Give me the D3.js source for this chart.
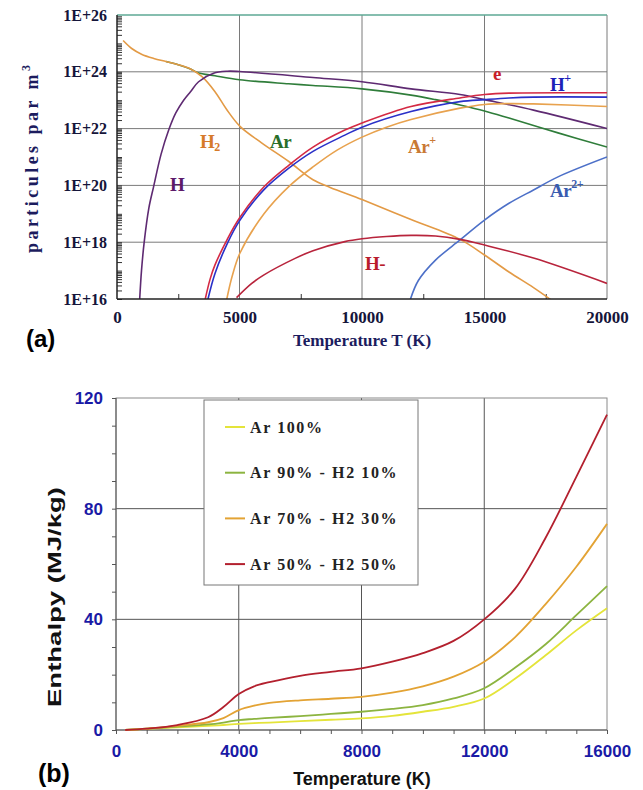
<!DOCTYPE html>
<html>
<head>
<meta charset="utf-8">
<script src="https://cdn.jsdelivr.net/npm/d3@7"></script>
<style>
body { margin: 0; background: #fff; }
svg { display: block; }
.serif { font-family: "Liberation Serif", "Times New Roman", serif; font-weight: bold; }
.sans { font-family: "Liberation Sans", Arial, sans-serif; font-weight: bold; }
</style>
</head>
<body>
<svg id="chart" width="643" height="790"></svg>
<script>
/* (a) particle densities, stored as log10 of particles per m3 */
var tempTicksA = [0, 5000, 10000, 15000, 20000];
var tempMinorA = [2500, 7500, 12500, 17500];
var densityTicks = [16, 18, 20, 22, 24, 26];

var seriesH2 = [[250, 25.1], [600, 24.82], [1000, 24.62], [1500, 24.47], [2000, 24.36], [2500, 24.25], [3000, 24.1],
	[3470, 23.83], [4000, 23.3], [4470, 22.68], [5020, 22.08], [5900, 21.5], [7000, 20.85], [8000, 20.2],
	[8700, 19.93], [10000, 19.5], [12000, 18.8], [14000, 18.1], [15000, 17.55], [16000, 16.95], [17000, 16.4], [17700, 15.98]];
var seriesAr = [[2000, 24.36], [2500, 24.25], [3000, 24.1], [3300, 23.97], [4000, 23.86], [5000, 23.72], [7000, 23.58],
	[8000, 23.52], [10000, 23.4], [12000, 23.18], [13000, 23.02], [14000, 22.83], [15000, 22.62], [16000, 22.37],
	[18000, 21.85], [20000, 21.35]];
var seriesH = [[920, 15.9], [1000, 17.0], [1110, 18.0], [1300, 19.2], [1490, 19.94], [1800, 21.1], [2110, 21.95],
	[2400, 22.55], [2720, 23.0], [3000, 23.3], [3330, 23.65], [3940, 23.95], [4500, 24.02], [5000, 24.01], [8000, 23.8],
	[10000, 23.65], [12000, 23.4], [14000, 23.2], [15000, 23.02], [17000, 22.65], [20000, 22.0]];
var seriesE = [[3590, 15.95], [3800, 16.7], [4000, 17.2], [4500, 18.1], [5000, 18.85], [6000, 19.95], [7000, 20.7],
	[8000, 21.35], [9300, 21.95], [10000, 22.2], [12000, 22.78], [14000, 23.08], [15000, 23.2], [16000, 23.25], [20000, 23.26]];
var seriesHplus = [[3700, 15.95], [4000, 16.9], [4500, 17.95], [5000, 18.75], [6000, 19.85], [7000, 20.6], [8000, 21.2],
	[9300, 21.77], [10000, 22.05], [12000, 22.6], [14000, 22.95], [15000, 23.02], [16000, 23.08], [17000, 23.11], [20000, 23.11]];
var seriesArPlus = [[4470, 15.95], [4700, 16.8], [5020, 17.62], [6000, 19.0], [7000, 19.95], [8000, 20.65], [9000, 21.25],
	[10000, 21.7], [11000, 22.05], [12000, 22.32], [14000, 22.72], [15000, 22.85], [16000, 22.88], [17000, 22.87], [20000, 22.78]];
var seriesAr2plus = [[11960, 15.95], [12300, 16.65], [13000, 17.37], [14000, 18.08], [15000, 18.78], [16000, 19.37],
	[17000, 19.84], [18000, 20.3], [20000, 21.0]];
var seriesHminus = [[4880, 16.05], [5500, 16.55], [6000, 16.85], [7270, 17.43], [8000, 17.7], [9300, 18.02], [10000, 18.12],
	[11000, 18.2], [12000, 18.24], [13000, 18.22], [14000, 18.1], [15000, 17.9], [17000, 17.44], [20000, 16.55]];

/* (b) enthalpy in MJ/kg */
var tempB = [300, 1000, 2000, 3000, 3500, 4000, 4500, 5000, 6000, 7000, 8000, 9000, 10000, 11000, 12000, 13000, 14000, 15000, 16000];
var enthalpyAr100 = [0, 0.4, 1.0, 1.5, 1.8, 2.2, 2.5, 2.7, 3.2, 3.7, 4.2, 5.1, 6.6, 8.4, 11.4, 18.5, 27, 36, 44];
var enthalpyAr90 = [0, 0.5, 1.2, 2.0, 2.7, 3.6, 4.0, 4.4, 5.0, 5.8, 6.6, 7.6, 9.0, 11.4, 15.1, 22.5, 31, 41.5, 52];
var enthalpyAr70 = [0, 0.5, 1.5, 2.8, 4.3, 7.2, 8.8, 9.8, 10.7, 11.3, 12.0, 13.5, 15.8, 19.3, 24.7, 33.5, 45.5, 59, 74.5];
var enthalpyAr50 = [0, 0.5, 1.8, 4.6, 8.3, 13.0, 15.8, 17.3, 19.6, 21.0, 22.3, 24.7, 27.8, 32.2, 40, 51, 69.5, 91.5, 114];
var tempTicksB = [0, 4000, 8000, 12000, 16000];
var enthalpyTicks = [0, 40, 80, 120];
var legendLabels = ['Ar 100%', 'Ar 90% - H2 10%', 'Ar 70% - H2 30%', 'Ar 50% - H2 50%'];
var legendColors = ['#e4e43a', '#8cb440', '#e3a334', '#b3202e'];

var svg = d3.select('#chart');
var plain = d3.format('d');

/* ---------- chart (a) ---------- */
var xA = d3.scaleLinear().domain([0, 20000]).range([117, 607]);
var yA = d3.scaleLog().domain([1e16, 1e26]).range([299, 15]);
var pow10 = function(e) { return Math.pow(10, e); };

svg.append('clipPath').attr('id', 'clipA').append('rect')
	.attr('x', 117).attr('y', 15).attr('width', 490).attr('height', 284);

var ga = svg.append('g');

// grid
ga.selectAll('.gridxa').data(tempTicksA.slice(1, 4)).enter().append('line')
	.attr('x1', function(d) { return xA(d); }).attr('x2', function(d) { return xA(d); })
	.attr('y1', 15).attr('y2', 299).attr('stroke', '#7a7a7a').attr('stroke-width', 1);
ga.selectAll('.gridya').data(densityTicks.slice(1, 5)).enter().append('line')
	.attr('x1', 117).attr('x2', 607)
	.attr('y1', function(d) { return yA(pow10(d)); }).attr('y2', function(d) { return yA(pow10(d)); })
	.attr('stroke', '#7a7a7a').attr('stroke-width', 1);
ga.append('line').attr('x1', 607).attr('x2', 607).attr('y1', 15).attr('y2', 299).attr('stroke', '#7a7a7a');
ga.append('line').attr('x1', 117).attr('x2', 607).attr('y1', 15).attr('y2', 15).attr('stroke', '#5ea894').attr('stroke-width', 1.5);

// minor ticks on the log axis
var minorY = [];
d3.range(16, 26).forEach(function(e) {
	d3.range(1, 10).forEach(function(m) { minorY.push(m * Math.pow(10, e)); });
});
ga.append('g').attr('transform', 'translate(117,0)')
	.call(d3.axisRight(yA).tickValues(minorY).tickSize(5).tickFormat(''))
	.call(function(g) { g.select('.domain').remove(); g.selectAll('line').attr('stroke', '#333'); });
ga.append('g').attr('transform', 'translate(0,299)')
	.call(d3.axisTop(xA).tickValues(tempMinorA).tickSize(5).tickFormat(''))
	.call(function(g) { g.select('.domain').remove(); g.selectAll('line').attr('stroke', '#333'); });

var lineA = d3.line()
	.x(function(d) { return xA(d[0]); })
	.y(function(d) { return yA(pow10(d[1])); })
	.curve(d3.curveCatmullRom.alpha(0.5));

var speciesA = [
	{ data: seriesAr, color: '#2f7d3a' },
	{ data: seriesH2, color: '#e39a45' },
	{ data: seriesH, color: '#5e2a72' },
	{ data: seriesAr2plus, color: '#4d70c8' },
	{ data: seriesHminus, color: '#b8243c' },
	{ data: seriesArPlus, color: '#e8a24e' },
	{ data: seriesE, color: '#d42a44' },
	{ data: seriesHplus, color: '#2a30c8' }
];
ga.append('g').attr('clip-path', 'url(#clipA)')
	.selectAll('path').data(speciesA).enter().append('path')
	.attr('d', function(d) { return lineA(d.data); })
	.attr('fill', 'none')
	.attr('stroke', function(d) { return d.color; })
	.attr('stroke-width', 1.6);

// axes lines
ga.append('line').attr('x1', 117).attr('x2', 117).attr('y1', 15).attr('y2', 299).attr('stroke', '#222').attr('stroke-width', 1.5);
ga.append('line').attr('x1', 117).attr('x2', 607).attr('y1', 299).attr('y2', 299).attr('stroke', '#222').attr('stroke-width', 1.5);

ga.append('g').attr('transform', 'translate(117,0)')
	.call(d3.axisLeft(yA).tickValues(densityTicks.map(pow10)).tickSize(0).tickPadding(10)
		.tickFormat(function(d) { return '1E+' + Math.round(Math.log10(d)); }))
	.call(function(g) {
		g.select('.domain').remove();
		g.selectAll('text').attr('class', 'serif').attr('font-size', 16).attr('fill', '#15153a');
	});
ga.append('g').attr('transform', 'translate(0,299)')
	.call(d3.axisBottom(xA).tickValues(tempTicksA).tickSize(0).tickPadding(12).tickFormat(plain))
	.call(function(g) {
		g.select('.domain').remove();
		g.selectAll('text').attr('class', 'serif').attr('font-size', 17).attr('fill', '#15153a');
	});

ga.append('text').attr('class', 'serif').attr('font-size', 17).attr('fill', '#1c1c5e')
	.attr('x', 362).attr('y', 346).attr('text-anchor', 'middle').text('Temperature T (K)');

var ty = ga.append('text').attr('class', 'serif').attr('font-size', 18).attr('fill', '#1c1c5e')
	.attr('transform', 'translate(38,159) rotate(-90)').attr('text-anchor', 'middle')
	.attr('textLength', 188).attr('lengthAdjust', 'spacing');
ty.append('tspan').text('particules par m');
ty.append('tspan').attr('font-size', 12).attr('dy', -8).text('3');

// curve labels
var labelsA = [
	{ base: 'H', sup: '', sub: '', T: 2163, v: 19.8, color: '#5c1a6a' },
	{ base: 'H', sup: '', sub: '2', T: 3388, v: 21.32, color: '#d67a2a' },
	{ base: 'Ar', sup: '', sub: '', T: 6245, v: 21.32, color: '#2a6e2a' },
	{ base: 'e', sup: '', sub: '', T: 15347, v: 23.71, color: '#c81e2a' },
	{ base: 'H', sup: '+', sub: '', T: 17673, v: 23.32, color: '#1c22b8' },
	{ base: 'Ar', sup: '+', sub: '', T: 11878, v: 21.14, color: '#c97a34' },
	{ base: 'Ar', sup: '2+', sub: '', T: 17673, v: 19.59, color: '#3a5cb0' },
	{ base: 'H-', sup: '', sub: '', T: 10122, v: 17.02, color: '#b81c2c' }
];
labelsA.forEach(function(l) {
	var t = ga.append('text').attr('class', 'serif').attr('font-size', 19).attr('fill', l.color)
		.attr('x', xA(l.T)).attr('y', yA(pow10(l.v))).attr('letter-spacing', -0.5);
	t.append('tspan').text(l.base);
	if (l.sup) t.append('tspan').attr('font-size', 12).attr('dy', -9).text(l.sup);
	if (l.sub) t.append('tspan').attr('font-size', 12).attr('dy', 3).text(l.sub);
});

svg.append('text').attr('class', 'sans').attr('font-size', 24).attr('x', 26).attr('y', 347).text('(a)');

/* ---------- chart (b) ---------- */
var xB = d3.scaleLinear().domain([0, 16000]).range([116, 607]);
var yB = d3.scaleLinear().domain([0, 120]).range([730, 398]);

var gb = svg.append('g');

gb.selectAll('.gridxb').data(tempTicksB.slice(1, 4)).enter().append('line')
	.attr('x1', function(d) { return xB(d); }).attr('x2', function(d) { return xB(d); })
	.attr('y1', 398).attr('y2', 730).attr('stroke', '#555');
gb.selectAll('.gridyb').data(enthalpyTicks.slice(1, 3)).enter().append('line')
	.attr('x1', 116).attr('x2', 607)
	.attr('y1', function(d) { return yB(d); }).attr('y2', function(d) { return yB(d); })
	.attr('stroke', '#555');
gb.append('rect').attr('x', 116).attr('y', 398).attr('width', 491).attr('height', 332)
	.attr('fill', 'none').attr('stroke', '#8a8a8a');
gb.append('line').attr('x1', 116).attr('x2', 116).attr('y1', 398).attr('y2', 730).attr('stroke', '#555');
gb.append('line').attr('x1', 116).attr('x2', 607).attr('y1', 730).attr('y2', 730).attr('stroke', '#555');

gb.append('g').attr('transform', 'translate(116,0)')
	.call(d3.axisLeft(yB).tickValues(d3.range(0, 121, 10)).tickSize(4).tickFormat(''))
	.call(function(g) { g.select('.domain').remove(); g.selectAll('line').attr('stroke', '#555'); });
gb.append('g').attr('transform', 'translate(0,730)')
	.call(d3.axisBottom(xB).tickValues(d3.range(0, 16001, 1000)).tickSize(4).tickFormat(''))
	.call(function(g) { g.select('.domain').remove(); g.selectAll('line').attr('stroke', '#555'); });

// legend box (drawn under the curves)
var legendG = gb.append('g');
legendG.append('rect').attr('x', 204).attr('y', 400).attr('width', 214).attr('height', 185)
	.attr('fill', '#fff').attr('stroke', '#777');
legendLabels.forEach(function(label, i) {
	var cy = 427 + i * 45.7;
	legendG.append('line').attr('x1', 225).attr('x2', 245).attr('y1', cy).attr('y2', cy)
		.attr('stroke', legendColors[i]).attr('stroke-width', 2);
	legendG.append('text').attr('class', 'serif').attr('font-size', 16).attr('letter-spacing', 1.6)
		.attr('fill', '#222').attr('x', 250).attr('y', cy + 5.5).text(label);
});

var lineB = d3.line()
	.x(function(d, i) { return xB(tempB[i]); })
	.y(function(d) { return yB(d); })
	.curve(d3.curveCatmullRom.alpha(0.5));

var seriesB = [enthalpyAr100, enthalpyAr90, enthalpyAr70, enthalpyAr50];
gb.selectAll('.enth').data(seriesB).enter().append('path')
	.attr('d', function(d) { return lineB(d); })
	.attr('fill', 'none')
	.attr('stroke', function(d, i) { return legendColors[i]; })
	.attr('stroke-width', 1.8);

gb.append('g').attr('transform', 'translate(116,0)')
	.call(d3.axisLeft(yB).tickValues(enthalpyTicks).tickSize(0).tickPadding(13))
	.call(function(g) {
		g.select('.domain').remove();
		g.selectAll('text').attr('class', 'sans').attr('font-size', 17).attr('fill', '#1a1aa6');
	});
gb.append('g').attr('transform', 'translate(0,730)')
	.call(d3.axisBottom(xB).tickValues(tempTicksB).tickSize(0).tickPadding(15).tickFormat(plain))
	.call(function(g) {
		g.select('.domain').remove();
		g.selectAll('text').attr('class', 'sans').attr('font-size', 17).attr('fill', '#1a1aa6');
	});

gb.append('text').attr('class', 'sans').attr('font-size', 18).attr('fill', '#111')
	.attr('x', 362).attr('y', 785).attr('text-anchor', 'middle').text('Temperature (K)');
gb.append('text').attr('class', 'sans').attr('font-size', 18).attr('fill', '#111')
	.attr('transform', 'translate(61,597) rotate(-90)').attr('text-anchor', 'middle')
	.attr('textLength', 220).attr('lengthAdjust', 'spacingAndGlyphs').text('Enthalpy (MJ/kg)');

svg.append('text').attr('class', 'sans').attr('font-size', 25).attr('x', 38).attr('y', 782).text('(b)');
</script>
</body>
</html>
